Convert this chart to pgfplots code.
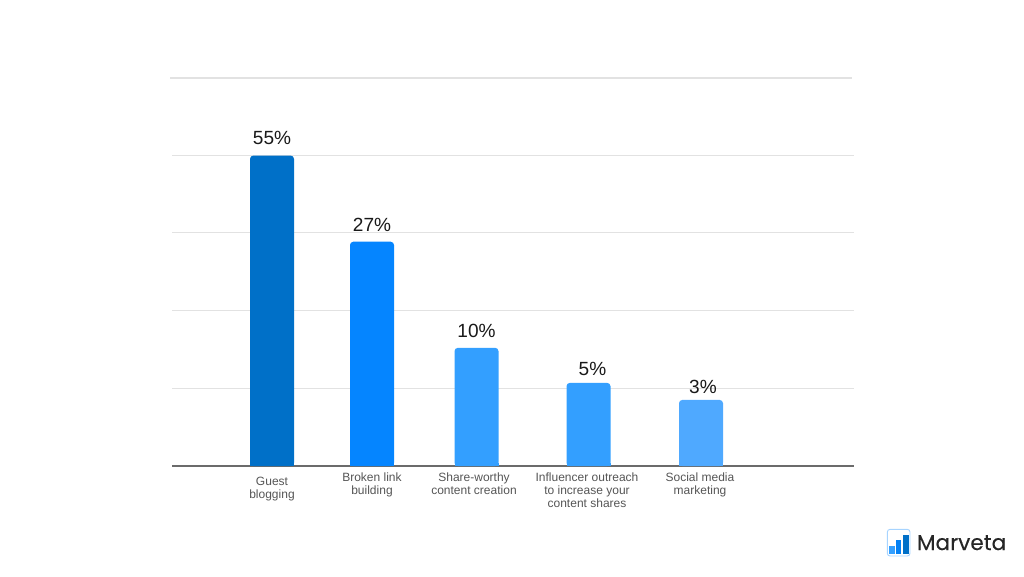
\documentclass[border=0pt]{standalone}
\usepackage{fontspec}
\setmainfont{Liberation Sans}
\newfontfamily\logofont[FakeBold=0.2]{Poppins}
\usepackage{pgfplots}
\pgfplotsset{compat=1.18}
\definecolor{b1}{HTML}{0070C8}
\definecolor{b2}{HTML}{0585FF}
\definecolor{b3}{HTML}{339FFF}
\definecolor{b4}{HTML}{4FA9FF}
\definecolor{gridc}{HTML}{E2E2E2}
\definecolor{lab}{HTML}{555555}
\pgfplotsset{px/.style={ybar, bar width=33pt, bar shift=0pt, draw=none, fill=#1, rounded corners=2.5pt,
   point meta=explicit symbolic,
   nodes near coords={\pgfplotspointmeta\%},
   every node near coord/.style={font=\fontsize{14.3}{17}\selectfont, text=black!90, anchor=south, inner sep=0pt, yshift=4.5pt}},
 pxb/.style={ybar, bar width=33pt, bar shift=0pt, draw=none, fill=#1}}
\begin{document}
\begin{tikzpicture}[x=1pt,y=1pt]
\useasboundingbox (0,0) rectangle (768,432);
\begin{axis}[
  at={(129pt,82.5pt)}, anchor=south west,
  width=511.5pt, height=291pt, scale only axis,
  xmin=172, xmax=854, ymin=0, ymax=388,
  axis y line*=left, axis x line=bottom,
  y axis line style={draw=none},
  x axis line style={-, draw=black!58, line width=0.9pt},
  xtick={272,372,474,587,700},
  xticklabels={{\rule{0pt}{9.4pt}Guest\\blogging},{Broken link\\building},{Share-worthy\\content creation},{Influencer outreach\\to increase your\\content shares},{Social media\\marketing}},
  xticklabel style={align=center, font=\fontsize{9}{9.8}\selectfont, text=lab, anchor=north, yshift=-1.5pt},
  major tick length=0pt,
  ytick={77.6,155.2,232.8,310.4},
  yticklabels={},
  ymajorgrids, major grid style={draw=gridc, line width=0.9pt},
]
\addplot[px=b1, every node near coord/.append style={yshift=3.75pt}] coordinates {(272,310) [55]};
\addplot[pxb=b1] coordinates {(272,3)};
\addplot[px=b2, every node near coord/.append style={yshift=3pt}] coordinates {(372,224) [27]};
\addplot[pxb=b2] coordinates {(372,3)};
\addplot[px=b3, every node near coord/.append style={yshift=3pt}] coordinates {(476.5,118) [10]};
\addplot[pxb=b3] coordinates {(476.5,3)};
\addplot[px=b3, every node near coord/.append style={xshift=3pt, yshift=0.75pt}] coordinates {(588.5,83) [5]};
\addplot[pxb=b3] coordinates {(588.5,3)};
\addplot[px=b4, every node near coord/.append style={xshift=1.5pt}] coordinates {(701,66) [3]};
\addplot[pxb=b4] coordinates {(701,3)};
\end{axis}
\draw[gridc, line width=0.9pt] (127.5,373.5) -- (639,373.5);
% logo
\draw[draw=b4!50, fill=white, line width=0.7pt, rounded corners=2pt] (665.5,15) rectangle (682.5,35);
\fill[b3] (667,16.5) rectangle (671,22.5);
\fill[b2!80!b1] (672,16.5) rectangle (676,27);
\fill[b1] (677,16.5) rectangle (681.5,31);
\node[anchor=west, inner sep=0pt, text=black!85, font=\logofont\fontsize{16.2}{18}\selectfont] at (687.5,25) {Marveta};
\end{tikzpicture}
\end{document}
